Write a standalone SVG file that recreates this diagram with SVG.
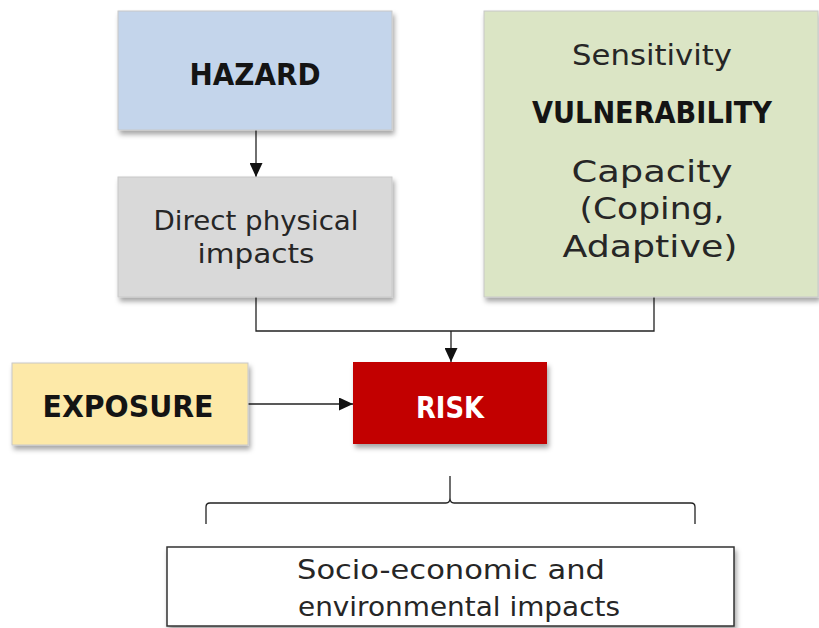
<svg xmlns="http://www.w3.org/2000/svg" width="819" height="628" viewBox="0 0 819 628">
<defs>
<filter id="sh" x="-10%" y="-10%" width="125%" height="130%">
<feDropShadow dx="2" dy="4" stdDeviation="2.5" flood-color="#000" flood-opacity="0.35"/>
</filter>
<marker id="ah" viewBox="0 0 10 10" refX="10" refY="5" markerWidth="14" markerHeight="13" markerUnits="userSpaceOnUse" orient="auto" preserveAspectRatio="none">
<path d="M0,0 L10,5 L0,10 Z" fill="#111"/>
</marker>
<style>
.box{stroke:#c8c8c8;stroke-width:1}
.t{font-family:"DejaVu Sans","Liberation Sans",sans-serif;fill:#262626;text-anchor:middle}
.b{font-family:"DejaVu Sans","Liberation Sans",sans-serif;font-weight:bold;fill:#141414;text-anchor:middle}
.c{fill:none;stroke:#222;stroke-width:1.3}
</style>
</defs>
<rect width="819" height="628" fill="#fff"/>
<g id="connectors">
<line class="c" x1="256" y1="130" x2="256" y2="177" marker-end="url(#ah)"/>
<polyline class="c" points="256,297 256,331 654,331 654,297"/>
<line class="c" x1="451" y1="331" x2="451" y2="362" marker-end="url(#ah)"/>
<line class="c" x1="248" y1="404" x2="353" y2="404" marker-end="url(#ah)"/>
<path class="c" d="M206,524 L206,507 Q206,503 210,503 L446,503 Q450,503 450,498 L450,476 M450,498 Q450,503 454,503 L691,503 Q695,503 695,507 L695,524" stroke="#555"/>
</g>
<g id="hazard">
<rect class="box" x="118" y="11" width="274" height="119" fill="#c4d5eb" filter="url(#sh)"/>
<text class="b" x="255" y="85" font-size="30" textLength="131" lengthAdjust="spacingAndGlyphs">HAZARD</text>
</g>
<g id="direct">
<rect class="box" x="118" y="177" width="274" height="120" fill="#d9d9d9" filter="url(#sh)"/>
<text class="t" x="256" y="230" font-size="27" textLength="205" lengthAdjust="spacingAndGlyphs">Direct physical</text>
<text class="t" x="256" y="263" font-size="27" textLength="117" lengthAdjust="spacingAndGlyphs">impacts</text>
</g>
<g id="vulnerability">
<rect class="box" x="484" y="11" width="334" height="286" fill="#dbe5c5" filter="url(#sh)"/>
<text class="t" x="652" y="65" font-size="29" textLength="160" lengthAdjust="spacingAndGlyphs">Sensitivity</text>
<text class="b" x="652" y="123" font-size="30" textLength="240" lengthAdjust="spacingAndGlyphs">VULNERABILITY</text>
<text class="t" x="652" y="182" font-size="31" textLength="161" lengthAdjust="spacingAndGlyphs">Capacity</text>
<text class="t" x="652" y="219" font-size="31" textLength="145" lengthAdjust="spacingAndGlyphs">(Coping,</text>
<text class="t" x="650" y="257" font-size="31" textLength="175" lengthAdjust="spacingAndGlyphs">Adaptive)</text>
</g>
<g id="exposure">
<rect class="box" x="12" y="363" width="236" height="82" fill="#fde9a8" filter="url(#sh)"/>
<text class="b" x="128" y="417" font-size="30" textLength="171" lengthAdjust="spacingAndGlyphs">EXPOSURE</text>
</g>
<g id="risk">
<rect x="353" y="362" width="194" height="82" fill="#c20000" filter="url(#sh)"/>
<text class="b" x="450" y="418" font-size="30" style="fill:#fff" textLength="68" lengthAdjust="spacingAndGlyphs">RISK</text>
</g>
<g id="impacts">
<rect x="167" y="547" width="567" height="79" fill="#fff" stroke="#333" stroke-width="1.5" filter="url(#sh)"/>
<text class="t" x="451" y="579" font-size="27" textLength="308" lengthAdjust="spacingAndGlyphs">Socio-economic and</text>
<text class="t" x="459" y="616" font-size="27" textLength="322" lengthAdjust="spacingAndGlyphs">environmental impacts</text>
</g>
</svg>
